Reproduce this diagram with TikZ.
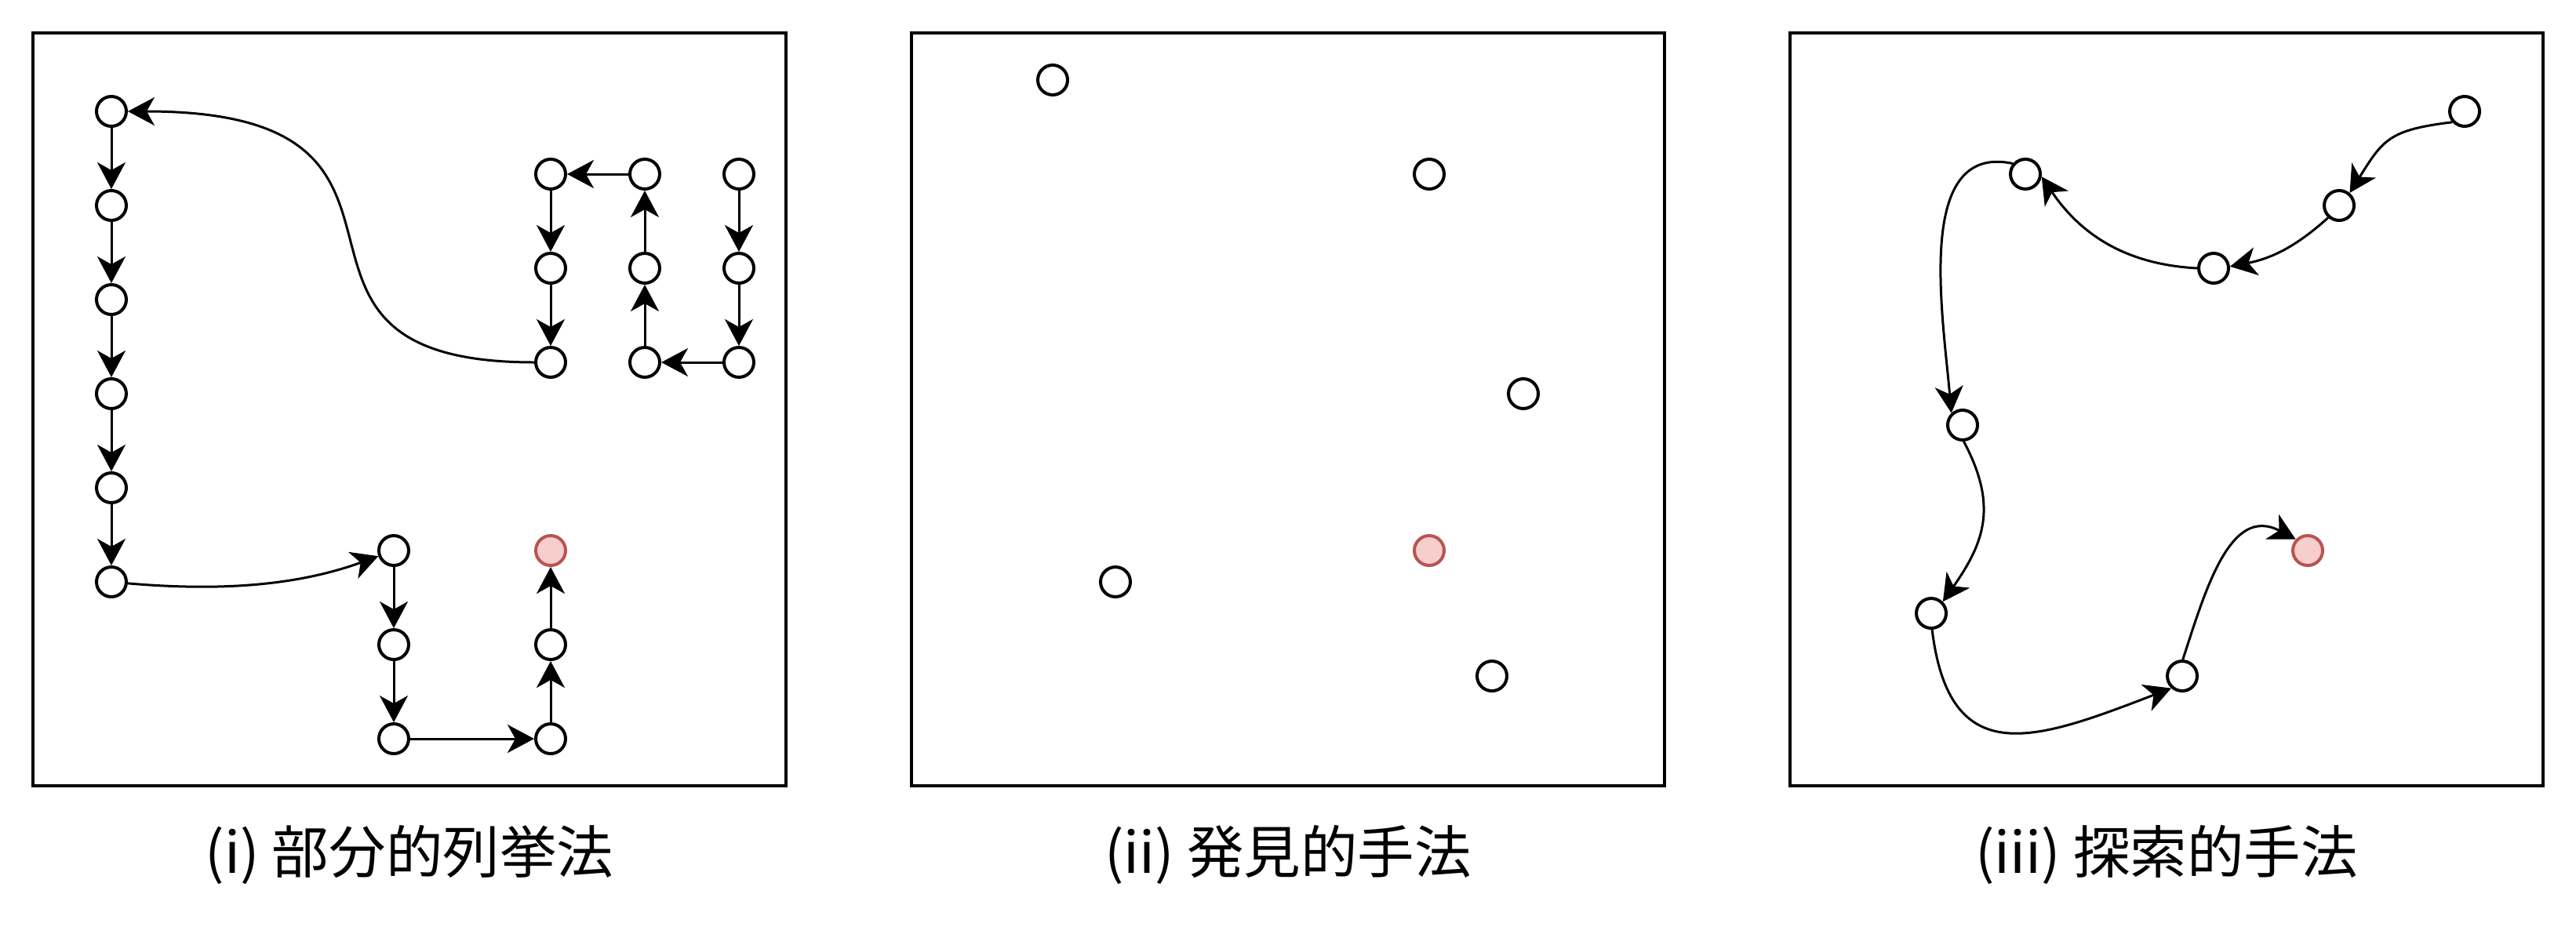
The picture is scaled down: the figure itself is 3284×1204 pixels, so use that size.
\documentclass[tikz,border=0pt]{standalone}
\usepackage{fontspec}
\setmainfont{Noto Sans CJK JP}
\usetikzlibrary{arrows.meta}
\definecolor{goalline}{HTML}{B85450}
\definecolor{goalfill}{HTML}{F8CECC}

\tikzset{
  pt/.style={circle, draw, fill=white, line width=0.08cm, minimum size=0.76cm, inner sep=0pt},
  goal/.style={pt, draw=goalline, fill=goalfill},
  panel/.style={draw, line width=0.08cm, minimum size=19.2cm, inner sep=0pt},
  link/.style={-{Stealth[length=0.68cm,width=0.72cm,inset=0.2cm]}, line width=0.06cm},
  subcap/.style={font=\fontsize{41.3pt}{50pt}\selectfont, anchor=base, inner sep=0pt}
}

\begin{document}
\begin{tikzpicture}[x=0.02cm, y=0.02cm]
	\useasboundingbox (0,0) rectangle (3284,-1204);

	% (i) enumeration
	\begin{scope}[shift={(42,-42)}]
		\node[panel] (box1) at (480,-480) {};
		\node[subcap] (cap1) at (480,-1071) {(i) 部分的列挙法};
		\foreach \i/\x/\y in {1/900/180, 2/900/300, 3/900/420, 4/780/420, 5/780/300, 6/780/180, 7/660/180, 8/660/300, 9/660/420, 10/100/100, 11/100/220, 12/100/340, 13/100/460, 14/100/580, 15/100/700, 16/460/660, 17/460/780, 18/460/900, 19/660/900, 20/660/780}
			\node[pt] (en\i) at (\x,-\y) {};
		\node[goal] (en21) at (660,-660) {};

		\foreach \a/\b in {1/2, 2/3, 3/4, 4/5, 5/6, 6/7, 7/8, 8/9, 10/11, 11/12, 12/13, 13/14, 14/15, 16/17, 17/18, 18/19, 19/20, 20/21}
			\draw[link] (en\a) -- (en\b);
		\draw[link] (en9) to[out=180, in=0, out looseness=1.66, in looseness=1.89] (en10);
		\draw[link] (en15) to[out=-5, in=200, looseness=0.9] (en16);
	\end{scope}

	% (ii) heuristic
	\begin{scope}[shift={(1162,-42)}]
		\node[panel] (box2) at (480,-480) {};
		\node[subcap] (cap2) at (480,-1071) {(ii) 発見的手法};
		\foreach \i/\x/\y in {1/180/60, 2/660/180, 3/780/460, 4/260/700, 5/740/820}
			\node[pt] (ht\i) at (\x,-\y) {};
		\node[goal] (ht6) at (660,-660) {};
	\end{scope}

	% (iii) search
	\begin{scope}[shift={(2282,-42)}]
		\node[panel] (box3) at (480,-480) {};
		\node[subcap] (cap3) at (480,-1071) {(iii) 探索的手法};
		\foreach \i/\x/\y in {1/860/100, 2/700/220, 3/540/300, 4/300/180, 5/220/500, 6/180/740, 7/500/820}
			\node[pt] (ex\i) at (\x,-\y) {};
		\node[goal] (ex8) at (660,-660) {};

		\draw[link] (ex1.221) to[out=187, in=58, looseness=1.3] (ex2.50);
		\draw[link] (ex2.228) to[out=222, in=11] (ex3.6);
		\draw[link] (ex3.west) to[out=177, in=304] (ex4.351);
		\draw[link] (ex4.140) to[out=168, in=95] (ex5.133);
		\draw[link] (ex5.274) to[out=-62, in=55, looseness=1.15] (ex6.45);
		\draw[link] (ex6.273) to[out=-83, in=201, looseness=1.5] (ex7.228);
		\draw[link] (ex7.88) to[out=72, in=152, looseness=1.15] (ex8.137);
	\end{scope}
\end{tikzpicture}
\end{document}
